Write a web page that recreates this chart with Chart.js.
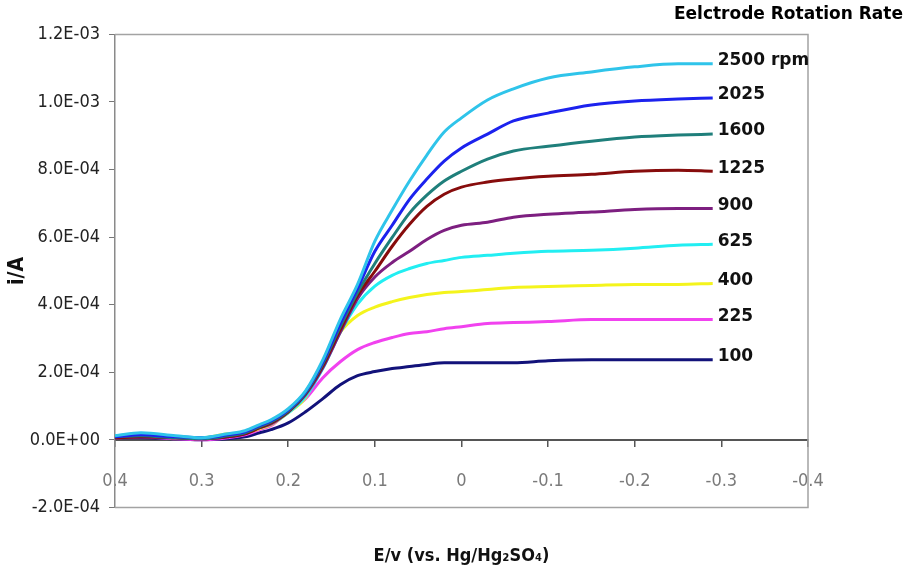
<!DOCTYPE html>
<html lang="en">
<head>
<meta charset="UTF-8">
<title>RDE Polarization Curves</title>
<script src="https://cdn.jsdelivr.net/npm/chart.js"></script>
<style>
  html, body { margin: 0; padding: 0; background: #fff; }
  #wrap { width: 903px; height: 577px; }
</style>
</head>
<body>
<div id="wrap"><canvas id="rdeChart"></canvas></div>
<script>
// potential E (V vs. Hg/Hg2SO4), shared by every curve
const potential = [0.40, 0.37, 0.33, 0.30, 0.27, 0.25, 0.233, 0.22, 0.20, 0.18, 0.16, 0.14, 0.12,
                   0.10, 0.08, 0.06, 0.04, 0.02, 0.00, -0.03, -0.06, -0.10, -0.15, -0.20, -0.25, -0.29];

// current in mA, one array per rotation rate
const i2500 = [0.012, 0.021, 0.012, 0.006, 0.018, 0.027, 0.045, 0.059, 0.092, 0.145, 0.237, 0.356, 0.460,
               0.588, 0.680, 0.766, 0.843, 0.911, 0.953, 1.006, 1.039, 1.071, 1.089, 1.104, 1.113, 1.113];
const i2025 = [0.009, 0.015, 0.009, 0.006, 0.015, 0.024, 0.042, 0.056, 0.089, 0.142, 0.231, 0.344, 0.448,
               0.558, 0.635, 0.712, 0.772, 0.825, 0.864, 0.905, 0.944, 0.967, 0.991, 1.003, 1.009, 1.012];
const i1600 = [0.009, 0.012, 0.006, 0.003, 0.012, 0.021, 0.039, 0.053, 0.086, 0.139, 0.226, 0.335, 0.436,
               0.522, 0.599, 0.671, 0.724, 0.766, 0.795, 0.831, 0.855, 0.869, 0.884, 0.896, 0.902, 0.905];
const i1225 = [0.006, 0.009, 0.006, 0.003, 0.009, 0.018, 0.036, 0.050, 0.083, 0.137, 0.220, 0.326, 0.427,
               0.499, 0.573, 0.638, 0.691, 0.727, 0.748, 0.763, 0.772, 0.780, 0.786, 0.795, 0.798, 0.795];
const i900  = [0.006, 0.009, 0.006, 0.003, 0.009, 0.018, 0.036, 0.047, 0.083, 0.134, 0.214, 0.318, 0.418,
               0.482, 0.525, 0.558, 0.593, 0.620, 0.635, 0.644, 0.659, 0.668, 0.674, 0.682, 0.685, 0.685];
const i625  = [0.012, 0.018, 0.009, 0.006, 0.015, 0.021, 0.036, 0.047, 0.080, 0.128, 0.212, 0.318, 0.402,
               0.455, 0.487, 0.507, 0.522, 0.531, 0.540, 0.546, 0.552, 0.558, 0.561, 0.567, 0.576, 0.579];
const i400  = [0.009, 0.012, 0.006, 0.006, 0.018, 0.021, 0.033, 0.045, 0.080, 0.125, 0.225, 0.318, 0.368,
               0.393, 0.409, 0.421, 0.430, 0.436, 0.439, 0.445, 0.451, 0.454, 0.457, 0.460, 0.460, 0.463];
const i225  = [0.006, 0.009, 0.003, 0.000, 0.006, 0.015, 0.030, 0.042, 0.083, 0.122, 0.184, 0.231, 0.267,
               0.288, 0.303, 0.315, 0.320, 0.329, 0.335, 0.344, 0.347, 0.350, 0.356, 0.356, 0.356, 0.356];
const i100  = [0.006, 0.006, 0.003, 0.000, 0.003, 0.009, 0.021, 0.030, 0.050, 0.083, 0.122, 0.163, 0.190,
               0.202, 0.211, 0.217, 0.223, 0.228, 0.228, 0.228, 0.228, 0.234, 0.237, 0.237, 0.237, 0.237];

const rateLabels = ['2500 rpm', '2025', '1600', '1225', '900', '625', '400', '225', '100'];
const currents = [i2500, i2025, i1600, i1225, i900, i625, i400, i225, i100];
const lineColors = ['#2fc4ea', '#1c22ee', '#1f7f7b', '#870c0c', '#7d1f80', '#22eef2', '#f4f41c', '#f142ef', '#12127a'];

const narrow = "'Liberation Sans Narrow', 'DejaVu Sans Condensed', 'Liberation Sans', sans-serif";

function sci(v) {
    if (Math.abs(v) < 1e-12) return '0.0E+00';
    const parts = v.toExponential(1).split('e');
    const n = parseInt(parts[1], 10);
    return parts[0] + 'E' + (n < 0 ? '-' : '+') + String(Math.abs(n)).padStart(2, '0');
}

// grey box round the plot (top, right, bottom)
const frame = {
    id: 'frame',
    beforeDatasetsDraw(chart) {
        const { ctx, chartArea: a } = chart;
        ctx.save();
        ctx.strokeStyle = '#a3a3a3';
        ctx.lineWidth = 1.5;
        ctx.beginPath();
        ctx.moveTo(a.left, a.top);
        ctx.lineTo(a.right, a.top);
        ctx.lineTo(a.right, a.bottom);
        ctx.lineTo(a.left, a.bottom);
        ctx.stroke();
        ctx.restore();
    }
};

// rotation-rate label at the end of every curve
const endLabels = {
    id: 'endLabels',
    afterDatasetsDraw(chart) {
        const ctx = chart.ctx;
        ctx.save();
        ctx.font = "bold 17px 'DejaVu Sans'";
        ctx.fillStyle = '#111';
        ctx.textBaseline = 'middle';
        chart.data.datasets.forEach((ds, i) => {
            const pts = chart.getDatasetMeta(i).data;
            const last = pts[pts.length - 1];
            ctx.fillText(ds.label, last.x + 5, last.y - 3);
        });
        ctx.restore();
    }
};

const datasets = currents.map((arr, k) => ({
    label: rateLabels[k],
    data: arr.map((v, j) => ({ x: potential[j], y: v * 1e-3 })),
    borderColor: lineColors[k],
    backgroundColor: lineColors[k],
    borderWidth: 3,
    pointRadius: 0,
    cubicInterpolationMode: 'monotone',
    fill: false
}));

new Chart(document.getElementById('rdeChart'), {
    type: 'line',
    data: { datasets },
    options: {
        responsive: true,
        maintainAspectRatio: false,
        animation: false,
        devicePixelRatio: 1,
        layout: { padding: 0 },
        plugins: {
            legend: { display: false },
            tooltip: { enabled: false },
            title: {
                display: true,
                text: 'Eelctrode Rotation Rate',
                align: 'end',
                color: '#000',
                font: { family: "'DejaVu Sans'", weight: 'bold', size: 17 },
                padding: { top: 4, bottom: 10 }
            }
        },
        scales: {
            x: {
                type: 'linear',
                min: -0.4, max: 0.4, reverse: true,
                position: { y: 0 },
                ticks: { stepSize: 0.1, color: '#7a7a7a', font: { family: narrow, size: 18 }, padding: 25, maxRotation: 0, autoSkip: false },
                grid: { drawOnChartArea: false, tickLength: 6, color: '#555', lineWidth: 1.5 },
                border: { color: '#555', width: 2 }
            },
            x2: {
                type: 'linear',
                position: 'bottom',
                min: -0.4, max: 0.4, reverse: true,
                grid: { display: false },
                border: { display: false },
                ticks: { display: false },
                title: {
                    display: true,
                    text: 'E/v (vs. Hg/Hg\u2082SO\u2084)',
                    color: '#111',
                    font: { family: narrow, weight: 'bold', size: 18 },
                    padding: { top: 30, bottom: 10 }
                }
            },
            y: {
                min: -2e-4, max: 1.2e-3,
                ticks: { stepSize: 2e-4, callback: sci, color: '#222', font: { family: narrow, size: 18 }, padding: 9 },
                grid: { drawOnChartArea: false, tickLength: 6, color: '#777' },
                border: { color: '#8a8a8a', width: 1.5 },
                title: {
                    display: true,
                    text: 'i/A',
                    color: '#111',
                    font: { family: narrow, weight: 'bold', size: 21 },
                    padding: { top: 5 }
                },
                afterFit(scale) { scale.width = 115; }
            },
            y2: {
                position: 'right',
                grid: { display: false },
                border: { display: false },
                ticks: { display: false },
                afterFit(scale) { scale.width = 95; }
            }
        }
    },
    plugins: [frame, endLabels]
});
</script>
</body>
</html>
